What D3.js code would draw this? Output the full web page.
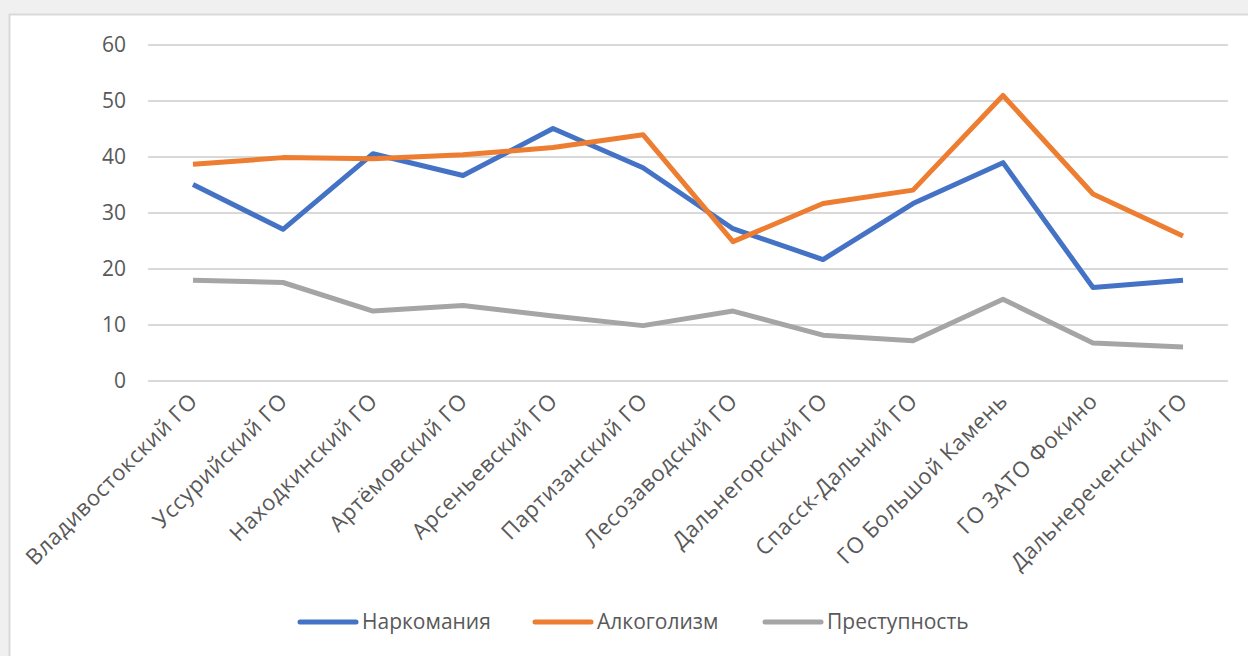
<!DOCTYPE html>
<html>
<head>
<meta charset="utf-8">
<script src="https://cdn.jsdelivr.net/npm/d3@7"></script>
<style>
  body { margin: 0; background: #f0f0f0; }
  svg { display: block; }
  text { font-family: "Open Sans", "Noto Sans", sans-serif; fill: #595959; }
</style>
</head>
<body>
<div id="chart"></div>
<script>
// districts on the x axis
var districts = ['Владивостокский ГО', 'Уссурийский ГО', 'Находкинский ГО', 'Артёмовский ГО',
    'Арсеньевский ГО', 'Партизанский ГО', 'Лесозаводский ГО', 'Дальнегорский ГО',
    'Спасск-Дальний ГО', 'ГО Большой Камень', 'ГО ЗАТО Фокино', 'Дальнереченский ГО'];

var narcomania = [35, 27, 40.5, 36.6, 45, 38, 27.1, 21.6, 31.6, 38.9, 16.6, 17.9];
var alcoholism = [38.6, 39.8, 39.6, 40.3, 41.6, 43.9, 24.8, 31.6, 34, 50.9, 33.3, 25.8];
var crime = [17.9, 17.5, 12.4, 13.4, 11.5, 9.8, 12.4, 8.1, 7.1, 14.5, 6.7, 6];

var seriesNames = ['Наркомания', 'Алкоголизм', 'Преступность'];
var yTicks = [0, 10, 20, 30, 40, 50, 60];

var W = 1248, H = 656;
var colors = ['#4472C4', '#ED7D31', '#A5A5A5'];

var series = [narcomania, alcoholism, crime].map(function(v, i) {
    return { name: seriesNames[i], values: v, color: colors[i] };
});

var svg = d3.select('#chart').append('svg')
    .attr('width', W)
    .attr('height', H);

// outer window frame
svg.append('rect')
    .attr('x', 9.5).attr('y', 14.5)
    .attr('width', W + 10).attr('height', H)
    .attr('fill', '#ffffff')
    .attr('stroke', '#d9d9d9')
    .attr('stroke-width', 2);

var plotL = 148, plotR = 1228, plotT = 44.5, plotB = 380.5;

var x = d3.scaleBand()
    .domain(districts)
    .range([plotL, plotR]);

var y = d3.scaleLinear()
    .domain([0, 60])
    .range([plotB, plotT]);

// gridlines + y labels
var yAxis = d3.axisLeft(y)
    .tickValues(yTicks)
    .tickSize(-(plotR - plotL))
    .tickPadding(22);

var gy = svg.append('g')
    .attr('transform', 'translate(' + plotL + ',0)')
    .call(yAxis);
gy.select('.domain').remove();
gy.selectAll('.tick line').attr('stroke', '#d9d9d9').attr('stroke-width', 2);
gy.selectAll('.tick text')
    .style('font-size', '21px')
    .attr('fill', '#595959');

// x labels, rotated
var xAxis = d3.axisBottom(x).tickSize(0).tickPadding(0);
var gx = svg.append('g')
    .attr('transform', 'translate(0,' + plotB + ')')
    .call(xAxis);
gx.select('.domain').remove();
gx.selectAll('.tick text')
    .style('font-size', '22px')
    .style('letter-spacing', '0.6px')
    .attr('fill', '#595959')
    .attr('text-anchor', 'end')
    .attr('dy', null)
    .attr('y', 0)
    .attr('transform', 'translate(6,22) rotate(-45)');

// lines
var line = d3.line()
    .x(function(d, i) { return x(districts[i]) + x.bandwidth() / 2; })
    .y(function(d) { return y(d); });

svg.selectAll('.series')
    .data(series)
    .enter().append('path')
    .attr('class', 'series')
    .attr('d', function(d) { return line(d.values); })
    .attr('fill', 'none')
    .attr('stroke', function(d) { return d.color; })
    .attr('stroke-width', 5)
    .attr('stroke-linejoin', 'round');

// legend
var legendX = [300, 535, 765];
var lg = svg.selectAll('.legend')
    .data(series)
    .enter().append('g')
    .attr('class', 'legend')
    .attr('transform', function(d, i) { return 'translate(' + legendX[i] + ',622)'; });

lg.append('line')
    .attr('x1', 0).attr('x2', 56)
    .attr('stroke', function(d) { return d.color; })
    .attr('stroke-width', 5)
    .attr('stroke-linecap', 'round');

lg.append('text')
    .attr('x', 62)
    .attr('dy', '0.35em')
    .style('font-size', '21px')
    .text(function(d) { return d.name; });
</script>
</body>
</html>
